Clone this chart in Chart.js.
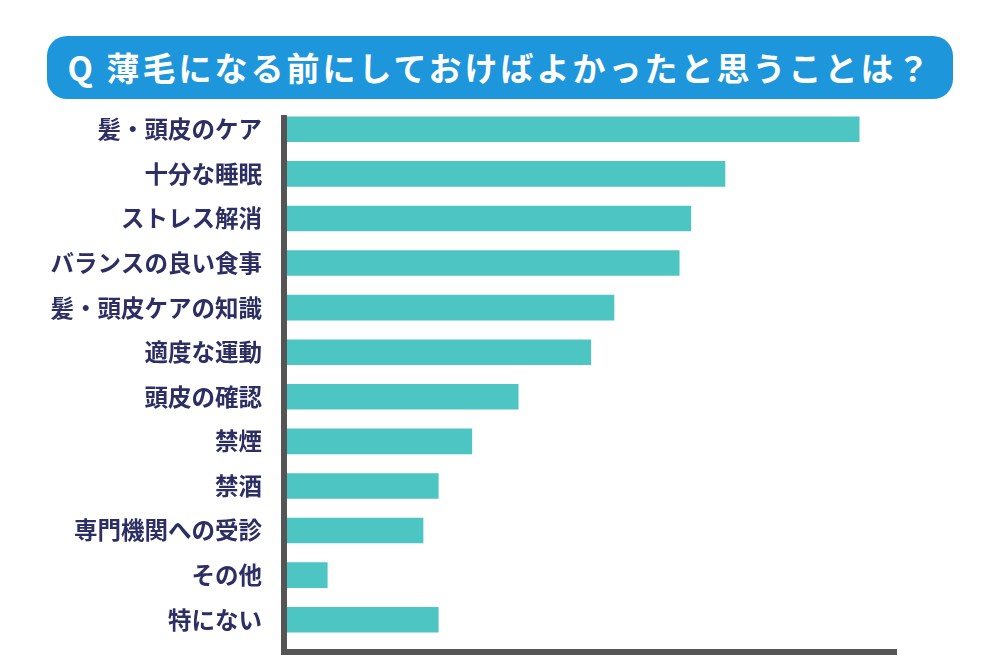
<!DOCTYPE html>
<html lang="ja">
<head>
<meta charset="utf-8">
<title>薄毛になる前にしておけばよかったと思うこと</title>
<script src="https://cdn.jsdelivr.net/npm/chart.js@4"></script>
<style>
  html, body { margin: 0; padding: 0; background: #fff; }
  #wrap { position: relative; width: 1000px; height: 667px; }
  #banner {
    position: absolute; left: 47px; top: 36px; width: 906px; height: 63px;
    background: #1e96dc; border-radius: 20px; color: #fff;
    font-family: "Noto Sans CJK JP", "Noto Sans", sans-serif; font-weight: 700;
    font-size: 33px; letter-spacing: 3px; line-height: 63px; text-align: center;
  }
  canvas { position: absolute; left: 0; top: 0; }
</style>
</head>
<body>
<div id="wrap">
  <div id="banner">Q 薄毛になる前にしておけばよかったと思うことは？</div>
  <canvas id="chart" width="1000" height="667"></canvas>
</div>
<script>
const categories = [
  '髪・頭皮のケア',
  '十分な睡眠',
  'ストレス解消',
  'バランスの良い食事',
  '髪・頭皮ケアの知識',
  '適度な運動',
  '頭皮の確認',
  '禁煙',
  '禁酒',
  '専門機関への受診',
  'その他',
  '特にない',
];

const values = [93.8, 71.8, 66.2, 64.3, 53.6, 49.8, 37.9, 30.3, 24.8, 22.3, 6.6, 24.8];

const barColor = '#4dc5c2';
const labelColor = '#2d2e63';
const axisColor = '#555555';

// left and bottom axis lines, drawn a bit outside the plot area like the original
const axisLines = {
  id: 'axisLines',
  afterDraw(chart) {
    const { ctx, chartArea } = chart;
    ctx.save();
    ctx.fillStyle = axisColor;
    ctx.fillRect(chartArea.left - 6, 115, 6, 540);
    ctx.fillRect(chartArea.left - 6, 649, chartArea.right - chartArea.left + 6, 6);
    ctx.restore();
  },
};

new Chart(document.getElementById('chart'), {
  type: 'bar',
  data: {
    labels: categories,
    datasets: [{
      data: values,
      backgroundColor: barColor,
      barThickness: 25,
      borderWidth: 0,
    }],
  },
  options: {
    indexAxis: 'y',
    responsive: false,
    animation: false,
    layout: { padding: { top: 107, right: 103, bottom: 25, left: 0 } },
    plugins: {
      legend: { display: false },
      tooltip: { enabled: false },
    },
    scales: {
      x: {
        display: false,
        min: 0,
        max: 100,
      },
      y: {
        afterFit(scale) {
          scale.width = 287;
          scale.paddingTop = 0;
          scale.paddingBottom = 0;
        },
        grid: { display: false, drawTicks: false },
        border: { display: false },
        ticks: {
          color: labelColor,
          padding: 25,
          font: { family: '"Noto Sans CJK JP", sans-serif', size: 23.5, weight: '700' },
        },
      },
    },
  },
  plugins: [axisLines],
});
</script>
</body>
</html>
